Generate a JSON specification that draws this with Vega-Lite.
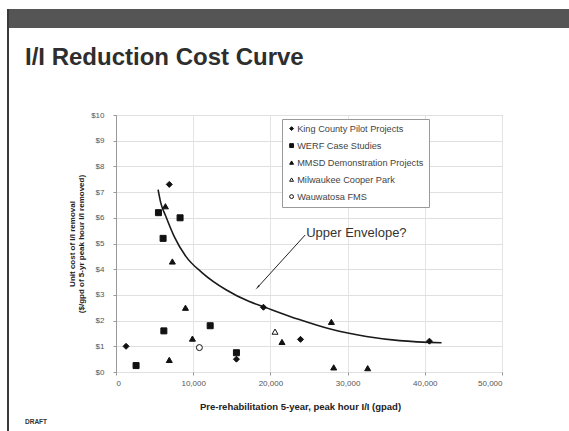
{
  "$schema": "https://vega.github.io/schema/vega-lite/v6.json",
  "background": "white",
  "padding": {"left": 7, "top": 9, "right": 0, "bottom": 0},
  "autosize": {"type": "pad"},
  "config": {"view": {"stroke": null}, "font": "Liberation Sans"},
  "datasets": {
    "projects": [
      {"series": "King County Pilot Projects", "x": 6900, "y": 7.3},
      {"series": "King County Pilot Projects", "x": 1300, "y": 1.0},
      {"series": "King County Pilot Projects", "x": 15600, "y": 0.5},
      {"series": "King County Pilot Projects", "x": 19100, "y": 2.52},
      {"series": "King County Pilot Projects", "x": 23900, "y": 1.27},
      {"series": "King County Pilot Projects", "x": 40600, "y": 1.2},
      {"series": "WERF Case Studies", "x": 5500, "y": 6.2},
      {"series": "WERF Case Studies", "x": 8300, "y": 6.0},
      {"series": "WERF Case Studies", "x": 6100, "y": 5.2},
      {"series": "WERF Case Studies", "x": 2600, "y": 0.25},
      {"series": "WERF Case Studies", "x": 6200, "y": 1.6},
      {"series": "WERF Case Studies", "x": 12200, "y": 1.8},
      {"series": "WERF Case Studies", "x": 15600, "y": 0.75},
      {"series": "MMSD Demonstration Projects", "x": 6400, "y": 6.45},
      {"series": "MMSD Demonstration Projects", "x": 7300, "y": 4.3},
      {"series": "MMSD Demonstration Projects", "x": 9000, "y": 2.5},
      {"series": "MMSD Demonstration Projects", "x": 6900, "y": 0.47},
      {"series": "MMSD Demonstration Projects", "x": 9900, "y": 1.3},
      {"series": "MMSD Demonstration Projects", "x": 21500, "y": 1.17},
      {"series": "MMSD Demonstration Projects", "x": 27900, "y": 1.95},
      {"series": "MMSD Demonstration Projects", "x": 28200, "y": 0.18},
      {"series": "MMSD Demonstration Projects", "x": 32600, "y": 0.15},
      {"series": "Milwaukee Cooper Park", "x": 20600, "y": 1.57},
      {"series": "Wauwatosa FMS", "x": 10800, "y": 0.95}
    ],
    "envelope": [
      {"x": 5450, "y": 7.1},
      {"x": 5800, "y": 6.58},
      {"x": 6450, "y": 6.06},
      {"x": 7530, "y": 5.28},
      {"x": 9050, "y": 4.5},
      {"x": 11210, "y": 3.85},
      {"x": 14250, "y": 3.2},
      {"x": 17270, "y": 2.74},
      {"x": 19200, "y": 2.53},
      {"x": 23640, "y": 2.05},
      {"x": 27880, "y": 1.66},
      {"x": 32430, "y": 1.38},
      {"x": 36750, "y": 1.22},
      {"x": 42170, "y": 1.14}
    ],
    "note": [
      {"label": "Upper Envelope?", "x": 24500, "y": 5.33, "x2": 18390, "y2": 3.31}
    ]
  },
  "bounds": "flush",
  "spacing": 0,
  "hconcat": [
    {
      "width": 2,
      "height": 422,
      "view": {"fill": "#3a3a3a", "stroke": null},
      "data": {"values": [{}]},
      "mark": {"type": "text", "text": ""},
      "encoding": {}
    },
    {
      "bounds": "flush",
      "spacing": 87,
      "vconcat": [
        {
          "width": 560,
          "height": 19,
          "view": {"fill": "#555555", "stroke": null},
          "title": {
            "text": "I/I Reduction Cost Curve",
            "orient": "bottom",
            "anchor": "start",
            "frame": "group",
            "offset": 18,
            "dx": 16,
            "font": "Liberation Sans",
            "fontSize": 24,
            "fontWeight": "bold",
            "color": "#2e2e2e"
          },
          "data": {"values": [{}]},
          "mark": {"type": "text", "text": ""},
          "encoding": {}
        },
        {
          "bounds": "flush",
          "spacing": 0,
          "hconcat": [
            {
              "width": 107,
              "height": 257,
              "title": {
                "text": "DRAFT",
                "orient": "bottom",
                "anchor": "start",
                "frame": "group",
                "offset": 47,
                "dx": 16,
                "fontSize": 6.5,
                "fontWeight": "bold",
                "color": "#333"
              },
              "data": {"values": [{}]},
              "mark": {"type": "text", "text": ""},
              "encoding": {}
            },
            {
              "width": 386,
              "height": 257,
              "view": {"stroke": "#a0a0a0", "strokeWidth": 1},
              "encoding": {
                "x": {
                  "field": "x",
                  "type": "quantitative",
                  "scale": {"domain": [0, 50000], "nice": false},
                  "axis": {
                    "values": [0, 10000, 20000, 30000, 40000, 50000],
                    "format": ",d",
                    "title": "Pre-rehabilitation 5-year, peak hour I/I (gpad)",
                    "grid": true,
                    "gridColor": "#e4e4e4",
                    "domain": false,
                    "ticks": true,
                    "tickSize": 3,
                    "tickColor": "#999",
                    "labelPadding": 4,
                    "labelFontSize": 8,
                    "labelColor": "#555",
                    "titleFontSize": 9.5,
                    "titleFontWeight": "bold",
                    "titleColor": "#222",
                    "titlePadding": 14,
                    "titleX": 184
                  }
                },
                "y": {
                  "field": "y",
                  "type": "quantitative",
                  "scale": {"domain": [0, 10], "nice": false},
                  "axis": {
                    "values": [0, 1, 2, 3, 4, 5, 6, 7, 8, 9, 10],
                    "format": "$.0f",
                    "title": ["Unit cost of I/I removal", "($/gpd of 5-yr peak hour I/I removed)"],
                    "grid": true,
                    "gridColor": "#e0e0e0",
                    "domain": true,
                    "domainColor": "#999",
                    "ticks": true,
                    "tickSize": 3,
                    "tickColor": "#999",
                    "labelPadding": 9,
                    "labelFontSize": 8,
                    "labelColor": "#555",
                    "titleFontSize": 8,
                    "titleFontWeight": "bold",
                    "titleColor": "#222",
                    "titlePadding": 5,
                    "titleLineHeight": 9
                  }
                }
              },
              "layer": [
                {
                  "data": {"name": "envelope"},
                  "mark": {"type": "line", "interpolate": "monotone", "color": "#1a1a1a", "strokeWidth": 1.6}
                },
                {
                  "data": {"name": "note"},
                  "mark": {"type": "rule", "color": "#222", "strokeWidth": 1},
                  "encoding": {"x2": {"field": "x2"}, "y2": {"field": "y2"}}
                },
                {
                  "data": {"name": "note"},
                  "mark": {"type": "point", "shape": "wedge", "angle": 222, "size": 45, "filled": true, "color": "#222", "opacity": 1},
                  "encoding": {
                    "x": {"field": "x2", "type": "quantitative"},
                    "y": {"field": "y2", "type": "quantitative"}
                  }
                },
                {
                  "data": {"name": "note"},
                  "mark": {"type": "text", "align": "left", "baseline": "middle", "dx": 1, "dy": -2, "fontSize": 13, "color": "#333"},
                  "encoding": {"text": {"field": "label"}}
                },
                {
                  "data": {"name": "projects"},
                  "mark": {"type": "point", "filled": true, "stroke": "#111", "strokeWidth": 1, "size": 36, "opacity": 1},
                  "encoding": {
                    "shape": {
                      "field": "series",
                      "type": "nominal",
                      "scale": {
                        "domain": ["King County Pilot Projects", "WERF Case Studies", "MMSD Demonstration Projects", "Milwaukee Cooper Park", "Wauwatosa FMS"],
                        "range": ["diamond", "square", "triangle-up", "triangle-up", "circle"]
                      },
                      "legend": {"title": null}
                    },
                    "fill": {
                      "field": "series",
                      "type": "nominal",
                      "scale": {
                        "domain": ["King County Pilot Projects", "WERF Case Studies", "MMSD Demonstration Projects", "Milwaukee Cooper Park", "Wauwatosa FMS"],
                        "range": ["#111111", "#111111", "#111111", "#ffffff", "#ffffff"]
                      },
                      "legend": {
                        "title": null,
                        "orient": "none",
                        "legendX": 275,
                        "legendY": 110,
                        "strokeColor": "#9a9a9a",
                        "fillColor": "#ffffff",
                        "padding": 5,
                        "labelFontSize": 9.2,
                        "labelColor": "#444",
                        "labelOffset": 1,
                        "symbolSize": 15,
                        "symbolStrokeColor": "#111",
                        "symbolStrokeWidth": 1,
                        "rowPadding": 7,
                        "labelLimit": 200
                      }
                    }
                  }
                }
              ]
            }
          ]
        }
      ]
    }
  ]
}
